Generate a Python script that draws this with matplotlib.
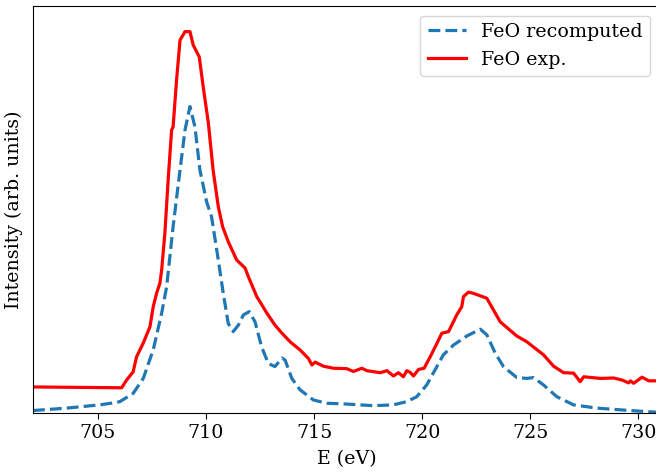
import matplotlib
matplotlib.use("Agg")
import matplotlib.pyplot as plt

plt.rcParams['font.family'] = ['DejaVu Serif']
plt.rcParams['font.size'] = 13.7
plt.rcParams['xtick.major.size'] = 4.5

# FeO experimental spectrum (energy in eV, intensity arb. units)
exp_energy = [702.0, 706.10, 706.33, 706.63, 706.79, 707.10, 707.41, 707.56, 707.72, 707.87,
              707.95, 708.10, 708.25, 708.41, 708.48, 708.64, 708.80, 709.03, 709.26, 709.41,
              709.69, 709.87, 710.11, 710.33, 710.57, 710.77, 711.03, 711.42, 711.81, 711.96,
              712.35, 712.81, 713.19, 713.50, 713.89, 714.35, 714.74, 714.90, 715.05, 715.43,
              715.89, 716.51, 716.82, 717.21, 717.44, 718.06, 718.37, 718.67, 718.90, 719.13,
              719.29, 719.44, 719.60, 719.83, 720.09, 720.37, 720.68, 720.91, 721.22, 721.60,
              721.83, 721.91, 722.14, 722.37, 722.99, 723.61, 724.38, 724.84, 725.61, 726.08,
              726.54, 727.00, 727.31, 727.47, 728.24, 728.86, 729.24, 729.55, 729.63, 729.78,
              730.17, 730.48, 730.83]
exp_intensity = [0.064, 0.062, 0.081, 0.101, 0.138, 0.172, 0.212, 0.261, 0.295, 0.319,
                 0.351, 0.442, 0.572, 0.695, 0.703, 0.818, 0.916, 0.937, 0.937, 0.904,
                 0.875, 0.802, 0.713, 0.597, 0.507, 0.458, 0.421, 0.376, 0.356, 0.335,
                 0.286, 0.246, 0.216, 0.197, 0.175, 0.155, 0.134, 0.118, 0.125, 0.115,
                 0.110, 0.109, 0.102, 0.110, 0.104, 0.099, 0.104, 0.091, 0.099, 0.089,
                 0.104, 0.100, 0.091, 0.107, 0.110, 0.138, 0.171, 0.196, 0.200, 0.241,
                 0.261, 0.286, 0.297, 0.294, 0.282, 0.224, 0.189, 0.175, 0.143, 0.115,
                 0.099, 0.098, 0.077, 0.089, 0.085, 0.086, 0.081, 0.074, 0.079, 0.073,
                 0.088, 0.079, 0.079]

# FeO recomputed spectrum
calc_energy = [702.0, 703.55, 705.09, 705.87, 706.02, 706.63, 707.10, 707.56, 707.95, 708.18,
               708.48, 708.80, 709.03, 709.26, 709.49, 709.72, 710.03, 710.26, 710.57, 710.80,
               711.03, 711.26, 711.50, 711.73, 712.00, 712.27, 712.57, 712.88, 713.19, 713.52,
               713.66, 713.97, 714.35, 714.97, 715.58, 716.51, 717.74, 718.67, 719.29, 719.75,
               720.21, 720.68, 720.98, 721.45, 722.06, 722.69, 722.99, 723.38, 723.76, 724.38,
               724.84, 725.15, 725.61, 726.23, 727.00, 728.08, 729.63, 730.83]
calc_intensity = [0.006, 0.012, 0.020, 0.026, 0.028, 0.048, 0.085, 0.155, 0.245, 0.310,
                  0.458, 0.597, 0.695, 0.753, 0.703, 0.597, 0.519, 0.482, 0.376, 0.294,
                  0.220, 0.200, 0.216, 0.241, 0.249, 0.224, 0.163, 0.122, 0.114, 0.135,
                  0.130, 0.085, 0.057, 0.032, 0.024, 0.022, 0.018, 0.020, 0.028, 0.040,
                  0.069, 0.114, 0.143, 0.167, 0.189, 0.206, 0.192, 0.147, 0.114, 0.087,
                  0.085, 0.087, 0.069, 0.040, 0.020, 0.012, 0.006, 0.002]

xticks = [705, 710, 715, 720, 725, 730]

fig = plt.figure(figsize=(6.56, 4.72), dpi=100)
ax = fig.add_axes([33 / 656, 59 / 472, (660 - 33) / 656, 407 / 472])

ax.plot(calc_energy, calc_intensity, linestyle='--', color='#1f77b4', lw=2.3,
        label='FeO recomputed')
ax.plot(exp_energy, exp_intensity, color='red', lw=2.3, label='FeO exp.')

ax.set_xlim(702.0, 731.0)
ax.set_ylim(0, 1)
ax.set_xticks(xticks)
ax.set_yticks([])
ax.set_xlabel('E (eV)', labelpad=6)
ax.set_ylabel('Intensity (arb. units)', labelpad=7)
ax.legend(loc='upper right')

fig.savefig('out.png', dpi=100)
